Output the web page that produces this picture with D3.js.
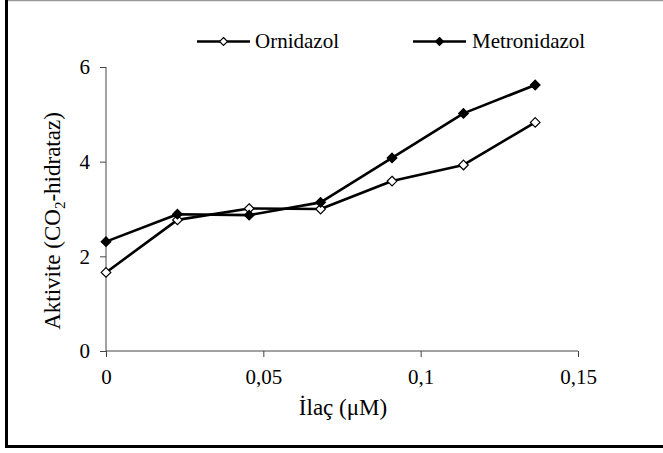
<!DOCTYPE html>
<html><head><meta charset="utf-8">
<script src="https://cdn.jsdelivr.net/npm/d3@7"></script>
<style>body{margin:0;background:#fff}svg{display:block}</style>
</head><body>
<svg id="c" width="663" height="453"></svg>
<script>
const xValues = [0, 0.0227, 0.0455, 0.0682, 0.0909, 0.1136, 0.1364];
const ornidazol = [1.66, 2.77, 3.01, 3.0, 3.59, 3.93, 4.83];
const metronidazol = [2.31, 2.89, 2.87, 3.14, 4.08, 5.02, 5.62];
const seriesNames = ["Ornidazol", "Metronidazol"];
const xTicks = [0, 0.05, 0.1, 0.15];
const xTickLabels = ["0", "0,05", "0,1", "0,15"];
const yTicks = [0, 2, 4, 6];
const yTickLabels = ["0", "2", "4", "6"];

const FONT = "'Liberation Serif', 'Times New Roman', 'DejaVu Serif', serif";
const svg = d3.select("#c");
// frame
svg.append("line").attr("x1",7).attr("x2",663).attr("y1",0.5).attr("y2",0.5).attr("stroke","#999").attr("stroke-width",1.5);
svg.append("line").attr("x1",6.5).attr("x2",6.5).attr("y1",0).attr("y2",448).attr("stroke","#000").attr("stroke-width",3);
svg.append("line").attr("x1",5).attr("x2",663).attr("y1",446.5).attr("y2",446.5).attr("stroke","#000").attr("stroke-width",3);

const x = d3.scaleLinear().domain([0,0.15]).range([106,578]);
const y = d3.scaleLinear().domain([0,6]).range([351,67]);

const axisColor = "#444";
const gx = svg.append("g").attr("transform","translate(0,351)")
  .call(d3.axisBottom(x).tickValues(xTicks).tickFormat((d,i)=>xTickLabels[i]).tickSize(6).tickSizeOuter(0).tickPadding(12));
const gy = svg.append("g").attr("transform","translate(106,0)")
  .call(d3.axisLeft(y).tickValues(yTicks).tickFormat((d,i)=>yTickLabels[i]).tickSize(6).tickSizeOuter(0).tickPadding(10));
[gx,gy].forEach(g=>{
  g.attr("font-family",null).attr("font-size",null);
  g.select(".domain").attr("stroke",axisColor);
  g.selectAll(".tick line").attr("stroke",axisColor);
  g.selectAll("text").style("font-size","21px").style("font-family",FONT).attr("fill","#000");
});
gy.select(".domain").attr("d","M0,"+y(6)+"V"+y(0));
gx.select(".domain").attr("d","M"+x(0)+",0H"+x(0.15));

// titles
svg.append("text").attr("x",343).attr("y",415).attr("text-anchor","middle").style("font-family",FONT).style("font-size","23px").text("İlaç (μM)");
const yl = svg.append("text").attr("transform","translate(60,221) rotate(-90)").attr("text-anchor","middle").style("font-family",FONT).style("font-size","23px");
yl.append("tspan").text("Aktivite (CO");
yl.append("tspan").style("font-size","15px").attr("dy",5).text("2");
yl.append("tspan").attr("dy",-5).text("-hidrataz)");

const line = d3.line().x((d,i)=>x(xValues[i])).y(d=>y(d));
function diamondPath(cx,cy,r){return `M${cx},${cy-r}L${cx+r},${cy}L${cx},${cy+r}L${cx-r},${cy}Z`;}

const series = [
  {name: seriesNames[0], values: ornidazol, fill: "#fff"},
  {name: seriesNames[1], values: metronidazol, fill: "#000"}
];
series.forEach(s=>{
  svg.append("path").datum(s.values).attr("d",line).attr("fill","none").attr("stroke","#000").attr("stroke-width",2.6).attr("stroke-linejoin","round");
});
series.forEach(s=>{
  svg.selectAll(null).data(s.values).enter().append("path")
    .attr("d",(d,i)=>diamondPath(x(xValues[i]),y(d),4.8))
    .attr("fill",s.fill).attr("stroke","#000").attr("stroke-width",1.2);
});

// legend
const legendPos = [{lx:197, tx:255}, {lx:413, tx:472}];
series.forEach((s,i)=>{
  const p = legendPos[i], ly = 41.5;
  svg.append("line").attr("x1",p.lx).attr("x2",p.lx+53).attr("y1",ly).attr("y2",ly).attr("stroke","#000").attr("stroke-width",2.6);
  svg.append("path").attr("d",diamondPath(p.lx+26.5,ly,4)).attr("fill",s.fill).attr("stroke","#000").attr("stroke-width",1.2);
  svg.append("text").attr("x",p.tx).attr("y",48).style("font-family",FONT).style("font-size","21px").text(s.name);
});
</script>
</body></html>
